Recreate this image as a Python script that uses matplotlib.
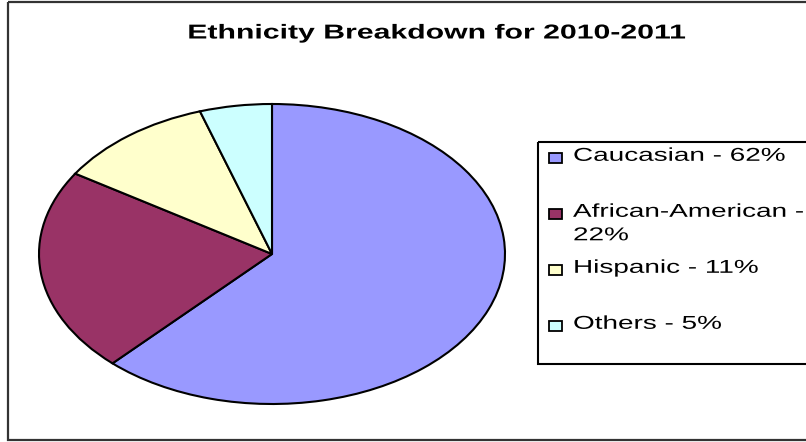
import textwrap
import matplotlib
matplotlib.use("Agg")
from matplotlib import pyplot as plt
from matplotlib import patheffects
from matplotlib.patches import Rectangle
from matplotlib.transforms import Affine2D

### data for the pie
groups = ["Caucasian", "African-American", "Hispanic", "Others"]
percents = [62, 22, 11, 5]
colors = ["#9999FF", "#993366", "#FFFFCC", "#CCFFFF"]
title = "Ethnicity Breakdown for 2010-2011"

W, H = 806, 442
SX = 1.5   # whole chart is stretched sideways
plt.rcParams['font.family'] = ['Liberation Sans', 'DejaVu Sans']


class Stretch(patheffects.AbstractPathEffect):
    """widen glyphs about the start of each text line"""
    def __init__(self, sx):
        super().__init__()
        self.sx = sx

    def draw_path(self, renderer, gc, tpath, affine, rgbFace=None):
        renderer.draw_path(gc, tpath, Affine2D().scale(self.sx, 1) + affine, rgbFace)


wide = [Stretch(SX)]

fig = plt.figure(figsize=(W / 100, H / 100), dpi=100)

### overlay axes in pixel units for frame, title and legend
bg = fig.add_axes([0, 0, 1, 1])
bg.set_xlim(0, W)
bg.set_ylim(H, 0)
bg.axis("off")

# chart area runs past the right edge of the image
frame_l, frame_r = 8, 864
bg.add_patch(Rectangle((frame_l, 2), frame_r - frame_l, 438, fill=False,
                       edgecolor="#333333", linewidth=1.6))

# title centred over the chart area, after widening
t = bg.text(0, 33, title, ha="left", va="center", fontsize=14.5, fontweight="bold",
            path_effects=wide)
tw = t.get_window_extent(renderer=fig.canvas.get_renderer()).width
t.set_x((frame_l + frame_r) / 2 - SX * tw / 2)

### pie, stretched into an ellipse
ax = fig.add_axes([39 / W, 38 / H, 466 / W, 300 / H])
wedges, _ = ax.pie(percents, colors=colors, startangle=90, counterclock=False,
                   wedgeprops=dict(edgecolor="black", linewidth=1.5, clip_on=False))
ax.set_aspect("auto")
ax.set_xlim(-1, 1)
ax.set_ylim(-1, 1)
ax.axis("off")

### legend box drawn by hand
bg.add_patch(Rectangle((538, 142), 300, 222, fill=False, edgecolor="black", linewidth=1.5))
y = 158
for name, pct, c in zip(groups, percents, colors):
    label = textwrap.fill(f"{name} - {pct}%", 18)
    bg.add_patch(Rectangle((549, y - 5), 13, 10, facecolor=c, edgecolor="black", linewidth=1.3))
    bg.text(573, y - 10.2, label, ha="left", va="top", fontsize=13.4, linespacing=1.5,
            path_effects=wide)
    y += 56

plt.savefig("out.png", dpi=100)
